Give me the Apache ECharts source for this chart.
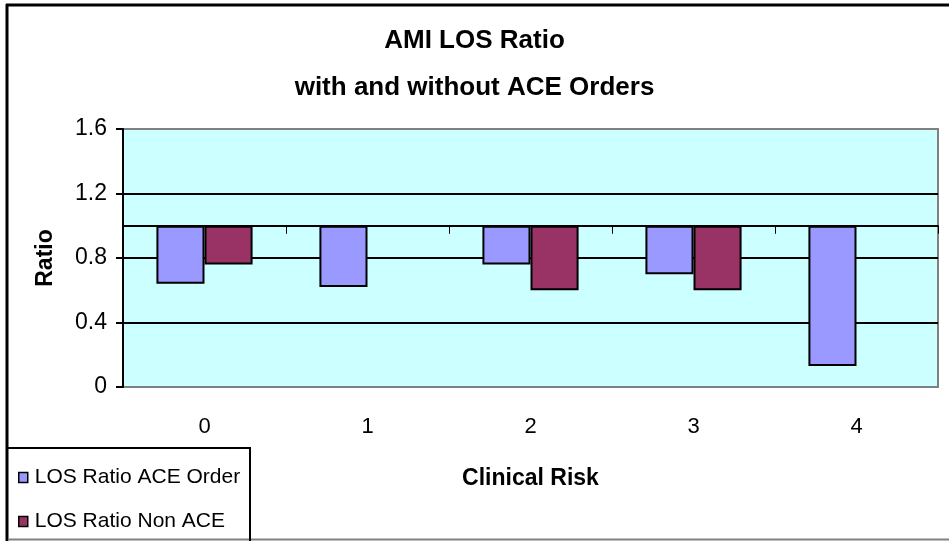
<!DOCTYPE html>
<html>
<head>
<meta charset="utf-8">
<script src="https://cdn.jsdelivr.net/npm/echarts@6/dist/echarts.min.js"></script>
<style>
html,body{margin:0;padding:0;background:#fff;}
#chart{width:949px;height:541px;}
</style>
</head>
<body>
<div id="chart"></div>
<script>
var categories = ['0', '1', '2', '3', '4'];
var aceOrder = [0.64, 0.62, 0.76, 0.70, 0.13];
var nonAce = [0.76, null, 0.60, 0.60, null];
var seriesNames = ['LOS Ratio ACE Order', 'LOS Ratio Non ACE'];
var baseline = 1;

var font = 'Liberation Sans, Arial, sans-serif';
function shift(arr) {
  return arr.map(function (v) { return v == null ? '-' : +(v - baseline).toFixed(4); });
}

var chart = echarts.init(document.getElementById('chart'));
chart.setOption({
  animation: false,
  backgroundColor: '#ffffff',
  title: {
    text: 'AMI LOS Ratio\nwith and without ACE Orders',
    left: 'center',
    top: 12,
    textStyle: { fontFamily: font, fontSize: 26, fontWeight: 'bold', color: '#000', lineHeight: 47 }
  },
  legend: {
    orient: 'vertical',
    left: 13,
    top: 462,
    itemWidth: 9,
    itemHeight: 10,
    itemGap: 23,
    icon: 'rect',
    data: seriesNames,
    itemStyle: { borderColor: '#000', borderWidth: 1.5 },
    textStyle: { fontFamily: font, fontSize: 21, color: '#000', lineHeight: 21, padding: [0, 0, 0, 2] }
  },
  grid: {
    left: 123, right: 11, top: 129, bottom: 154,
    show: true,
    backgroundColor: '#CCFFFF',
    borderColor: '#808080',
    borderWidth: 2
  },
  xAxis: [{
    type: 'category',
    data: categories,
    axisLine: { onZero: true, lineStyle: { color: '#000', width: 2 } },
    axisTick: { show: true, length: 8, lineStyle: { color: '#000', width: 1 } },
    axisLabel: { show: false },
    splitLine: { show: false }
  }, {
    type: 'category',
    data: categories,
    position: 'bottom',
    axisLine: { show: false, onZero: false },
    axisTick: { show: false },
    axisLabel: { margin: 29, fontFamily: font, fontSize: 22, color: '#000' },
    name: 'Clinical Risk',
    nameLocation: 'middle',
    nameGap: 80,
    nameTextStyle: { fontFamily: font, fontSize: 23, fontWeight: 'bold', color: '#000' }
  }],
  yAxis: {
    type: 'value',
    min: -1,
    max: 0.6,
    interval: 0.4,
    axisLine: { show: true, onZero: false, lineStyle: { color: '#000', width: 2 } },
    axisTick: { show: true, length: 7, lineStyle: { color: '#000', width: 2 } },
    axisLabel: {
      margin: 16,
      fontFamily: font, fontSize: 23, color: '#000',
      formatter: function (v) { return String(Math.round((v + baseline) * 10) / 10); }
    },
    splitLine: { show: true, showMinLine: false, showMaxLine: false, lineStyle: { color: '#000', width: 2 } },
    name: 'Ratio',
    nameLocation: 'middle',
    nameRotate: 90,
    nameGap: 66,
    nameTextStyle: { fontFamily: font, fontSize: 23, fontWeight: 'bold', color: '#000' }
  },
  series: [{
    name: seriesNames[0],
    type: 'bar',
    xAxisIndex: 0,
    data: shift(aceOrder),
    barGap: '0%',
    barCategoryGap: '41%',
    itemStyle: { color: '#9999FF', borderColor: '#000', borderWidth: 2 }
  }, {
    name: seriesNames[1],
    type: 'bar',
    xAxisIndex: 0,
    data: shift(nonAce),
    barGap: '0%',
    barCategoryGap: '41%',
    itemStyle: { color: '#993366', borderColor: '#000', borderWidth: 2 }
  }],
  graphic: [
    { type: 'line', shape: { x1: 6, y1: 5, x2: 949, y2: 5 }, style: { stroke: '#000', lineWidth: 3 }, z: 100 },
    { type: 'line', shape: { x1: 7, y1: 4, x2: 7, y2: 541 }, style: { stroke: '#000', lineWidth: 3 }, z: 100 },
    { type: 'line', shape: { x1: 7, y1: 539.5, x2: 949, y2: 539.5 }, style: { stroke: '#808080', lineWidth: 2 }, z: 100 },
    { type: 'rect', shape: { x: 7, y: 448, width: 243, height: 100 }, style: { fill: 'none', stroke: '#000', lineWidth: 2 }, z: 100 }
  ]
});
</script>
</body>
</html>
